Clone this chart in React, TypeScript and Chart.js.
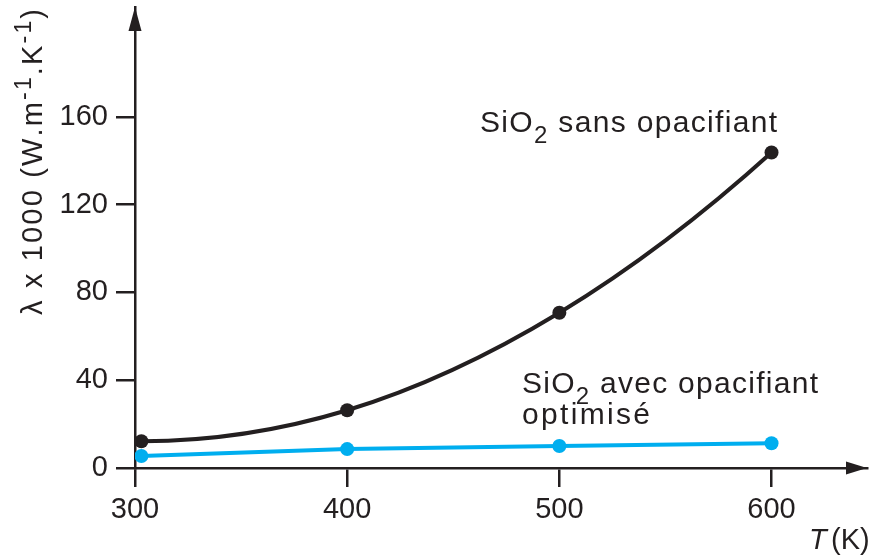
import React, { useEffect, useRef } from "react";
import { Chart, registerables } from "chart.js";

Chart.register(...registerables);

// ---- data ----
const temperatureK = [303, 400, 500, 600];
const lambdaSansOpacifiant = [12.2, 26.3, 70.7, 143.7];
const lambdaAvecOpacifiant = [5.5, 8.6, 10.0, 11.3];
const xTickValues = [300, 400, 500, 600];
const yTickValues = [0, 40, 80, 120, 160];
const xRange = [300, 645];
const yRange = [0, 210];

const INK = "#231f20";
const BLUE = "#00aeef";
const FONT = "'Liberation Sans', Arial, Helvetica, sans-serif";

type Seg = { t: string; sup?: boolean; sub?: boolean; italic?: boolean };

function segFont(s: Seg, size: number) {
  const fs = s.sup || s.sub ? Math.round(size * 0.8) : size;
  return `${s.italic ? "italic " : ""}${fs}px ${FONT}`;
}

function measureSegments(ctx: CanvasRenderingContext2D, segs: Seg[], size: number) {
  let w = 0;
  let n = 0;
  for (const s of segs) {
    ctx.font = segFont(s, size);
    for (const ch of s.t) {
      w += ctx.measureText(ch).width;
      n++;
    }
  }
  return { w, n };
}

// draws text pieces char by char, spreading them to a target length
function drawSpread(
  ctx: CanvasRenderingContext2D,
  segs: Seg[],
  x: number,
  y: number,
  size: number,
  targetLen: number
) {
  const m = measureSegments(ctx, segs, size);
  const spacing = Math.max(0, (targetLen - m.w) / (m.n - 1));
  let cx = x;
  for (const s of segs) {
    ctx.font = segFont(s, size);
    const dy = s.sup ? -size * 0.38 : s.sub ? size * 0.36 : 0;
    for (const ch of s.t) {
      ctx.fillText(ch, cx, y + dy);
      cx += ctx.measureText(ch).width + spacing;
    }
  }
}

// smooth curve: Hermite control points with 3-point (parabolic) tangents,
// computed from the points' pixel positions given by the scales
const smoothCurve = {
  id: "smoothCurve",
  beforeDatasetDraw(chart: any, args: any) {
    if (args.index !== 0) return;
    const meta = chart.getDatasetMeta(0);
    const line = meta.dataset;
    if (line && line.updateControlPoints) line.updateControlPoints(chart.chartArea, "x");
    const pts = meta.data as any[];
    const n = pts.length;
    if (n < 3) return;
    const h: number[] = [];
    const d: number[] = [];
    for (let i = 0; i < n - 1; i++) {
      h.push(pts[i + 1].x - pts[i].x);
      d.push((pts[i + 1].y - pts[i].y) / h[i]);
    }
    const m: number[] = new Array(n);
    m[0] = ((2 * h[0] + h[1]) * d[0] - h[0] * d[1]) / (h[0] + h[1]);
    for (let i = 1; i < n - 1; i++) {
      m[i] = (h[i - 1] * d[i] + h[i] * d[i - 1]) / (h[i - 1] + h[i]);
    }
    const k = n - 1;
    m[k] = ((2 * h[k - 1] + h[k - 2]) * d[k - 1] - h[k - 1] * d[k - 2]) / (h[k - 1] + h[k - 2]);
    for (let i = 0; i < n; i++) {
      const p = pts[i];
      if (i > 0) {
        const hh = h[i - 1] / 3;
        p.cp1x = p.x - hh;
        p.cp1y = p.y - m[i] * hh;
      }
      if (i < n - 1) {
        const hh = h[i] / 3;
        p.cp2x = p.x + hh;
        p.cp2y = p.y + m[i] * hh;
      }
    }
  },
};

const decorations = {
  id: "decorations",
  afterDraw(chart: any) {
    const ctx: CanvasRenderingContext2D = chart.ctx;
    const { left, right, top, bottom } = chart.chartArea;
    ctx.save();
    ctx.fillStyle = INK;

    // arrowheads
    ctx.beginPath();
    ctx.moveTo(left, top);
    ctx.lineTo(left - 6.5, top + 24);
    ctx.lineTo(left + 6.5, top + 24);
    ctx.closePath();
    ctx.fill();
    ctx.beginPath();
    ctx.moveTo(right, bottom);
    ctx.lineTo(right - 21, bottom - 6.5);
    ctx.lineTo(right - 21, bottom + 6.5);
    ctx.closePath();
    ctx.fill();

    ctx.textBaseline = "alphabetic";
    ctx.textAlign = "left";

    // y-axis title (rotated)
    ctx.save();
    ctx.translate(42, 315);
    ctx.rotate(-Math.PI / 2);
    drawSpread(
      ctx,
      [
        { t: "λ x 1000 (W.m" },
        { t: "-1", sup: true },
        { t: ".K" },
        { t: "-1", sup: true },
        { t: ")" },
      ],
      0,
      0,
      29,
      306
    );
    ctx.restore();

    // x-axis title
    ctx.font = `italic 29px ${FONT}`;
    ctx.fillText("T", 809, 549);
    ctx.font = `29px ${FONT}`;
    ctx.fillText("(K)", 831, 549);

    // series annotations
    drawSpread(
      ctx,
      [{ t: "SiO" }, { t: "2", sub: true }, { t: " sans opacifiant" }],
      480,
      132,
      30,
      297
    );
    drawSpread(
      ctx,
      [{ t: "SiO" }, { t: "2", sub: true }, { t: " avec opacifiant" }],
      522,
      393,
      30,
      296
    );
    drawSpread(ctx, [{ t: "optimisé" }], 522, 424, 30, 128);

    ctx.restore();
  },
};

export default function App() {
  const ref = useRef<HTMLCanvasElement>(null);

  useEffect(() => {
    if (!ref.current) return;
    const chart = new Chart(ref.current, {
      type: "line",
      data: {
        datasets: [
          {
            label: "SiO2 sans opacifiant",
            data: temperatureK.map((x, i) => ({ x, y: lambdaSansOpacifiant[i] })),
            borderColor: INK,
            backgroundColor: INK,
            borderWidth: 4,
            pointRadius: 7,
            pointBorderWidth: 0,
            pointBackgroundColor: INK,
            tension: 0.4,
            capBezierPoints: false,
          },
          {
            label: "SiO2 avec opacifiant optimisé",
            data: temperatureK.map((x, i) => ({ x, y: lambdaAvecOpacifiant[i] })),
            borderColor: BLUE,
            backgroundColor: BLUE,
            borderWidth: 4,
            pointRadius: 7,
            pointBorderWidth: 0,
            pointBackgroundColor: BLUE,
            tension: 0,
          },
        ],
      },
      options: {
        animation: false,
        responsive: true,
        maintainAspectRatio: false,
        layout: { padding: { top: 5, right: 6, bottom: 0, left: 0 } },
        plugins: {
          legend: { display: false },
          tooltip: { enabled: false },
          title: { display: false },
        },
        scales: {
          x: {
            type: "linear",
            min: xRange[0],
            max: xRange[1],
            grid: {
              display: true,
              drawOnChartArea: false,
              drawTicks: true,
              tickLength: 19,
              color: INK,
              lineWidth: 2.5,
            },
            border: { display: true, color: INK, width: 2.5 },
            ticks: {
              color: INK,
              font: { size: 29, family: FONT },
              padding: 6,
              maxRotation: 0,
              autoSkip: false,
            },
            afterBuildTicks: (scale: any) => {
              scale.ticks = xTickValues.map((v) => ({ value: v }));
            },
            afterFit: (scale: any) => {
              scale.height = 87;
              scale.paddingLeft = 0;
              scale.paddingRight = 0;
            },
          },
          y: {
            type: "linear",
            min: yRange[0],
            max: yRange[1],
            grid: {
              display: true,
              drawOnChartArea: false,
              drawTicks: true,
              tickLength: 19,
              color: INK,
              lineWidth: 2.5,
            },
            border: { display: true, color: INK, width: 2.5 },
            ticks: {
              color: INK,
              font: { size: 29, family: FONT },
              padding: 8,
              autoSkip: false,
            },
            afterBuildTicks: (scale: any) => {
              scale.ticks = yTickValues.map((v) => ({ value: v }));
            },
            afterFit: (scale: any) => {
              scale.width = 135;
              scale.paddingTop = 0;
              scale.paddingBottom = 0;
            },
          },
        },
      },
      plugins: [smoothCurve, decorations],
    });
    return () => chart.destroy();
  }, []);

  return (
    <div style={{ position: "absolute", left: 0, top: 0, width: 874, height: 555, background: "#fff" }}>
      <canvas ref={ref} />
    </div>
  );
}
